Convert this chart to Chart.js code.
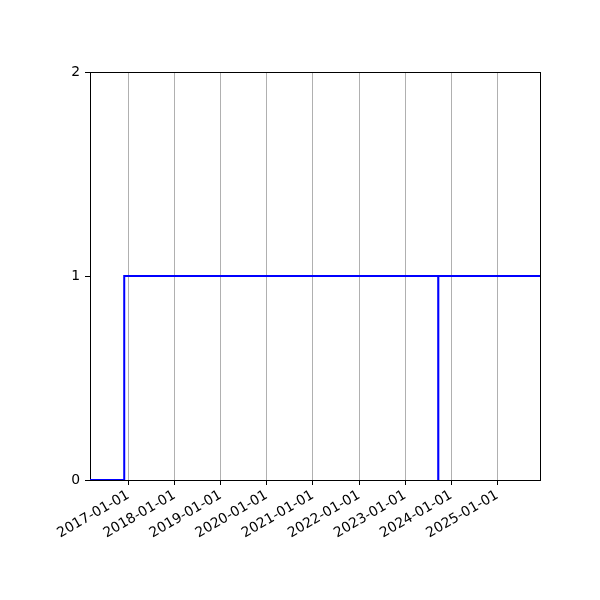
<!DOCTYPE html>
<html>
<head>
<meta charset="utf-8">
<script src="https://cdn.jsdelivr.net/npm/chart.js@4"></script>
<style>
  html, body { margin: 0; padding: 0; background: #fff; }
  #wrap { width: 600px; height: 600px; }
</style>
</head>
<body>
<div id="wrap"><canvas id="c" width="600" height="600"></canvas></div>
<script>
// ---- data ----
const stepDates  = ['2016-03-03', '2016-11-29', '2023-09-20', '2023-09-21', '2025-12-04'];
const stepValues = [0, 1, 0, 1, 1];
const xTickLabels = ['2017-01-01', '2018-01-01', '2019-01-01', '2020-01-01', '2021-01-01',
                     '2022-01-01', '2023-01-01', '2024-01-01', '2025-01-01'];
const yTickValues = [0, 1, 2];

const points = stepDates.map((d, i) => ({ x: Date.parse(d + 'T00:00:00Z'), y: stepValues[i] }));
const xMin = points[0].x, xMax = points[points.length - 1].x;

const FONT = { family: 'DejaVu Sans', size: 13.9 };

const spines = {
  id: 'spines',
  beforeDatasetsDraw(chart) {
    const { ctx, chartArea: a } = chart;
    ctx.save();
    ctx.strokeStyle = '#000';
    ctx.lineWidth = 1;
    ctx.strokeRect(Math.round(a.left) + 0.5, Math.round(a.top) + 0.5,
                   Math.round(a.right - a.left), Math.round(a.bottom - a.top));
    ctx.restore();
  }
};

new Chart(document.getElementById('c'), {
  type: 'line',
  data: {
    datasets: [{
      data: points,
      stepped: 'before',
      borderColor: '#0000ff',
      borderWidth: 2,
      pointRadius: 0,
      fill: false
    }]
  },
  options: {
    responsive: false,
    animation: false,
    devicePixelRatio: 1,
    layout: { padding: { top: 72, right: 60, left: 0, bottom: 0 } },
    plugins: { legend: { display: false }, tooltip: { enabled: false } },
    scales: {
      x: {
        type: 'linear',
        min: xMin,
        max: xMax,
        afterFit(scale) { scale.height = 120; },
        afterBuildTicks(scale) {
          scale.ticks = xTickLabels.map(s => ({ value: Date.parse(s + 'T00:00:00Z') }));
        },
        ticks: {
          autoSkip: false,
          minRotation: 30,
          maxRotation: 30,
          color: '#000',
          font: FONT,
          padding: 2,
          callback: (v) => new Date(v).toISOString().slice(0, 10)
        },
        grid: {
          color: '#b0b0b0',
          lineWidth: 1,
          tickColor: '#000',
          tickLength: 5,
          drawOnChartArea: true
        },
        border: { display: true, color: '#000', width: 1 }
      },
      y: {
        type: 'linear',
        min: 0,
        max: 2,
        afterFit(scale) { scale.width = 90; },
        afterBuildTicks(scale) {
          scale.ticks = yTickValues.map(v => ({ value: v }));
        },
        ticks: {
          color: '#000',
          font: FONT,
          padding: 5,
          callback: (v) => String(v)
        },
        grid: {
          drawOnChartArea: false,
          tickColor: '#000',
          tickLength: 5
        },
        border: { display: true, color: '#000', width: 1 }
      }
    }
  },
  plugins: [spines]
});
</script>
</body>
</html>
